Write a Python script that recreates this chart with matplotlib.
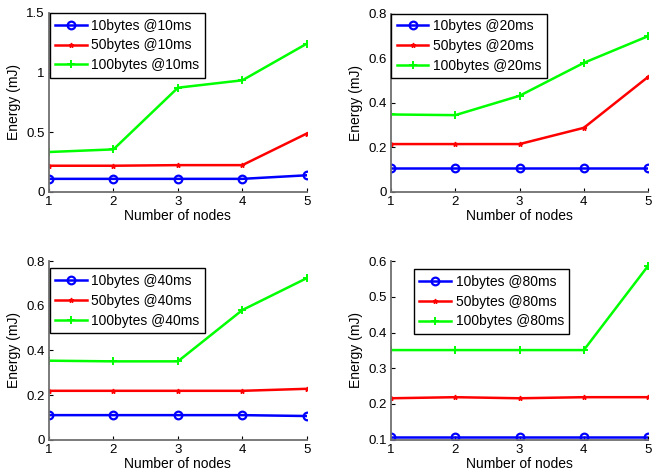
import matplotlib
matplotlib.use("Agg")
import matplotlib.pyplot as plt

plt.rcParams['font.family'] = ['Liberation Sans', 'DejaVu Sans']

nodes = [1, 2, 3, 4, 5]

# Panel 1: @10ms
e10_10 = [0.11, 0.11, 0.11, 0.11, 0.14]
e50_10 = [0.22, 0.22, 0.225, 0.225, 0.49]
e100_10 = [0.335, 0.357, 0.874, 0.936, 1.243]
# Panel 2: @20ms
e10_20 = [0.108, 0.108, 0.108, 0.108, 0.108]
e50_20 = [0.214, 0.214, 0.214, 0.287, 0.516]
e100_20 = [0.347, 0.344, 0.431, 0.579, 0.699]
# Panel 3: @40ms
e10_40 = [0.11, 0.11, 0.11, 0.11, 0.106]
e50_40 = [0.219, 0.219, 0.219, 0.219, 0.228]
e100_40 = [0.354, 0.351, 0.351, 0.581, 0.724]
# Panel 4: @80ms
e10_80 = [0.108, 0.108, 0.108, 0.108, 0.108]
e50_80 = [0.216, 0.219, 0.216, 0.219, 0.219]
e100_80 = [0.351, 0.351, 0.351, 0.351, 0.587]

panels = [
    ("10ms", e10_10, e50_10, e100_10, (0, 1.5), [0, 0.5, 1, 1.5], ["0", "0.5", "1", "1.5"]),
    ("20ms", e10_20, e50_20, e100_20, (0, 0.8), [0, 0.2, 0.4, 0.6, 0.8], ["0", "0.2", "0.4", "0.6", "0.8"]),
    ("40ms", e10_40, e50_40, e100_40, (0, 0.8), [0, 0.2, 0.4, 0.6, 0.8], ["0", "0.2", "0.4", "0.6", "0.8"]),
    ("80ms", e10_80, e50_80, e100_80, (0.1, 0.6), [0.1, 0.2, 0.3, 0.4, 0.5, 0.6], ["0.1", "0.2", "0.3", "0.4", "0.5", "0.6"]),
]

positions = [
    [0.0747, 0.5924, 0.393, 0.380],
    [0.596, 0.593, 0.392, 0.378],
    [0.0747, 0.0665, 0.393, 0.379],
    [0.596, 0.0665, 0.392, 0.379],
]
legend_anchor = [
    (0.003, 1.0),
    (0.0, 1.0),
    (0.003, 0.96),
    (0.089, 0.955),
]

fig = plt.figure(figsize=(6.56, 4.71), dpi=100)
spine_col = '#707070'
for i, (tag, a, b, c, ylim, yt, ytl) in enumerate(panels):
    ax = fig.add_axes(positions[i])
    ax.plot(nodes, a, color='#0000ff', lw=1.8, marker='o', ms=5.5, mfc='none', mew=1.6,
            label=f'10bytes @{tag}')
    ax.plot(nodes, b, color='#ff0000', lw=1.8, marker='*', ms=3.5, mew=1.0,
            label=f'50bytes @{tag}')
    ax.plot(nodes, c, color='#00ff00', lw=1.8, marker='+', ms=6, mew=1.4,
            label=f'100bytes @{tag}')
    ax.set_xlim(1, 5)
    ax.set_ylim(*ylim)
    ax.set_xticks(nodes)
    ax.set_yticks(yt)
    ax.set_yticklabels(ytl)
    ax.spines['top'].set_visible(False)
    ax.spines['right'].set_visible(False)
    for s in ['left', 'bottom']:
        ax.spines[s].set_color(spine_col)
        ax.spines[s].set_linewidth(1.3)
    ax.tick_params(direction='in', length=3, width=0.8, color='#000000',
                   labelsize=9.5, pad=3)
    ax.set_xlabel('Number of nodes', fontsize=10, labelpad=0.5)
    ax.set_ylabel('Energy (mJ)', fontsize=10, labelpad=4)
    leg = ax.legend(loc='upper left', bbox_to_anchor=legend_anchor[i], fontsize=10,
                    frameon=True, fancybox=False, edgecolor='black', framealpha=1,
                    borderpad=0.4, labelspacing=0.42, handlelength=2.3,
                    handletextpad=0.3, borderaxespad=0.0)
    leg.get_frame().set_linewidth(1.0)

fig.savefig('out.png', dpi=100)
